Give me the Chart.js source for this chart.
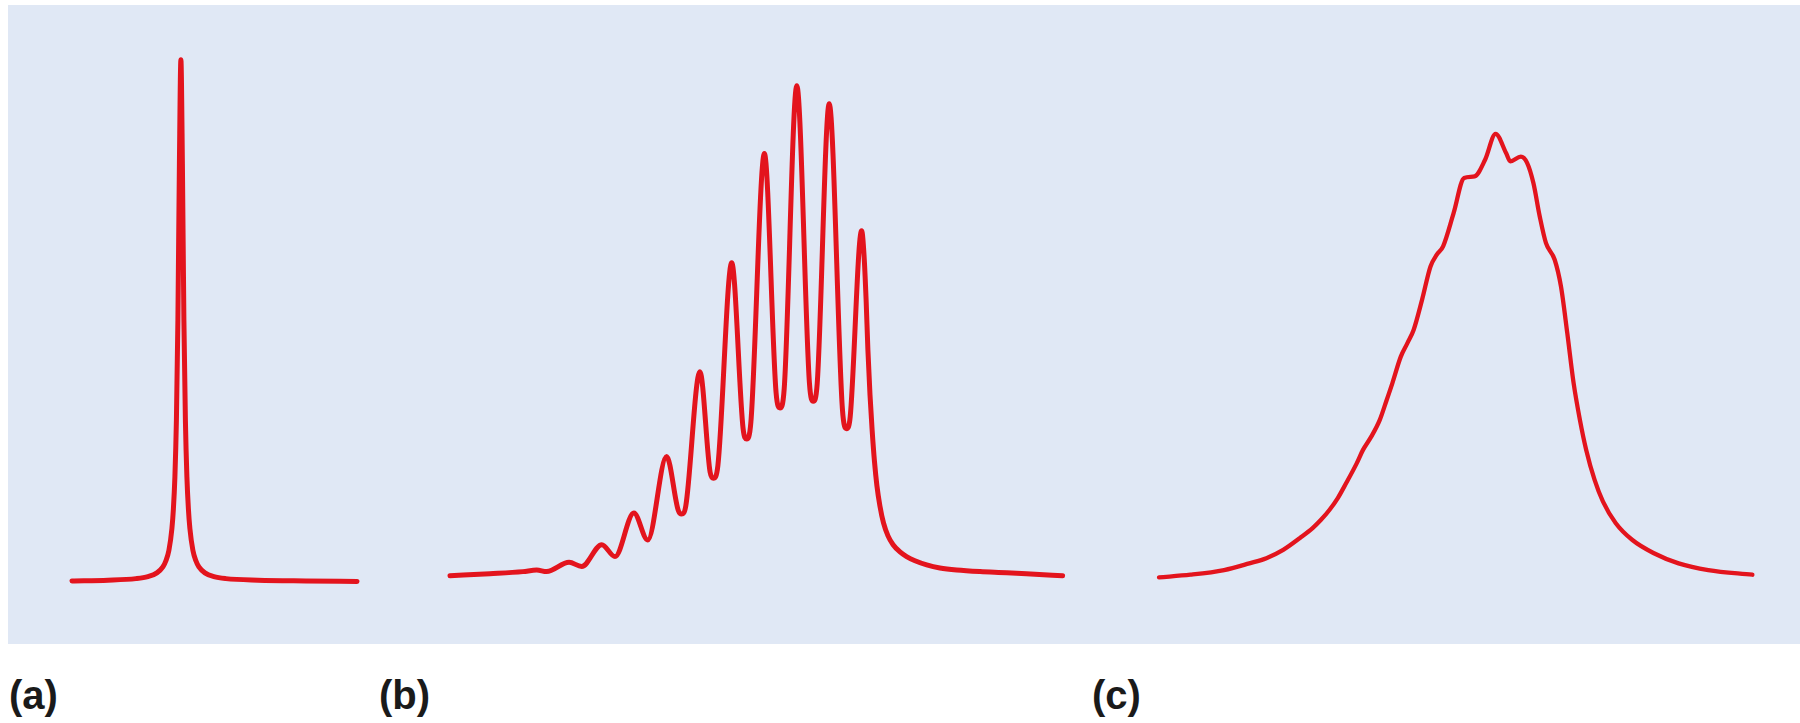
<!DOCTYPE html>
<html>
<head>
<meta charset="utf-8">
<script src="https://cdn.jsdelivr.net/npm/chart.js@4.4.1/dist/chart.umd.min.js"></script>
<style>
    body { margin: 0; background: #ffffff; width: 1800px; height: 723px; overflow: hidden; position: relative; }
    #panel { position: absolute; left: 8px; top: 5px; width: 1792px; height: 639px; background: #e0e8f5; }
    canvas { position: absolute; }
    .tag { position: absolute; top: 673px; line-height: 40px; font: bold 40px "Liberation Sans", Arial, sans-serif; color: #1a1a1a; }
</style>
</head>
<body>
<div id="panel"></div>
<canvas id="chart0" width="297" height="632" style="left:66px; top:8px;"></canvas>
<canvas id="chart1" width="624" height="632" style="left:444px; top:8px;"></canvas>
<canvas id="chart2" width="606" height="632" style="left:1153px; top:8px;"></canvas>
<div class="tag" id="tag0" style="left:9px;"></div>
<div class="tag" id="tag1" style="left:379px;"></div>
<div class="tag" id="tag2" style="left:1092px;"></div>

<script>
const panelTags = ["(a)", "(b)", "(c)"];

// (a) single narrow line
let aPos = [0, 12, 21.3, 25.3, 28.3, 30.3, 31.3, 32.3, 33.3, 33.8, 34.3, 34.8, 35.3, 35.8, 36.3, 36.8, 37.3, 37.8, 38.3, 38.8, 39.3, 40.3, 41.3, 42.3, 44.3, 47.3, 51.3, 62, 78, 95];
let aVal = [-0.6, -0.45, -0.15, 0.23, 0.95, 2.1, 3.3, 5.3, 9.5, 13.3, 19.5, 30.4, 49.7, 79.9, 100, 79.9, 49.7, 30.4, 19.5, 13.3, 9.5, 5.3, 3.3, 2.1, 0.95, 0.23, -0.15, -0.45, -0.6, -0.7];

// (b) resolved progression of lines
let bPos = [0, 13.3, 24.3, 28.9, 32.2, 39.7, 43.9, 50.6, 55, 61.3, 65.9, 72.2, 76.1, 77.2, 78.6, 83.3, 86.7, 87.8, 89.3, 93.9, 97.7, 98.9, 100.3, 104.8, 108.7, 110, 111.4, 115.6, 119.8, 121.1, 122.4, 126.4, 130.8, 132.2, 133.4, 137.2, 138.0, 138.7, 139.3, 140.0, 140.7, 141.5, 142.3, 143.3, 144.5, 146.0, 147.7, 150.0, 152.2, 155, 158.9, 163.3, 168.9, 176.7, 185.6, 195, 204.2];
let bVal = [0.4, 0.8, 1.2, 1.5, 1.2, 3.0, 2.2, 6.4, 4.1, 12.5, 7.3, 23.4, 13.0, 12.3, 13.9, 39.8, 20.4, 19.2, 21.7, 60.8, 28.8, 26.8, 30.1, 81.9, 35.7, 32.8, 36.5, 95.0, 37.7, 34.1, 37.5, 91.5, 32.6, 28.8, 31.1, 67.0, 62.4, 53.7, 44.0, 35.3, 28.6, 22.4, 17.8, 13.9, 10.6, 8.1, 6.4, 5.0, 4.1, 3.3, 2.5, 1.9, 1.5, 1.2, 1.0, 0.7, 0.4];

// (c) broadened envelope
let cPos = [0, 10.5, 21.7, 30.1, 35.8, 41.4, 47.0, 51.2, 54.0, 56.8, 59.6, 62.4, 65.9, 68.0, 70.8, 73.6, 75.7, 77.8, 80.6, 82.8, 84.9, 87.7, 90.5, 92.6, 94.7, 98.2, 101.7, 105.2, 108.7, 112.2, 115.7, 117.1, 120.6, 122.7, 124.8, 126.9, 129.0, 131.9, 134.0, 136.1, 138.2, 140.3, 142.4, 145.2, 148.0, 152.2, 157.8, 164.8, 173.2, 183.1, 197.8];
let cVal = [0.1, 0.6, 1.5, 2.8, 3.8, 5.4, 7.7, 9.6, 11.2, 13.1, 15.4, 18.3, 22.1, 24.7, 27.3, 30.5, 34.0, 37.6, 42.7, 45.3, 47.9, 53.7, 60.1, 62.4, 64.0, 70.4, 77.2, 77.5, 80.7, 85.7, 82.0, 80.4, 81.3, 80.1, 76.2, 69.8, 64.6, 61.4, 56.2, 47.2, 37.6, 30.5, 24.7, 18.9, 14.7, 10.6, 7.3, 4.8, 2.8, 1.5, 0.6];

const xRanges = [[-2, 97], [-2, 206], [-2, 200]];
const lineColor = "#e3141d";

function createSpectrum(index, positions, values, width) {
    let points = [];
    for (let i = 0; i < positions.length; i++) {
        points.push({ x: positions[i], y: values[i] });
    }

    const config = {
        type: "line",
        data: {
            datasets: [{
                data: points,
                borderColor: lineColor,
                borderWidth: width,
                borderCapStyle: "round",
                borderJoinStyle: "round",
                cubicInterpolationMode: "monotone",
                pointRadius: 0,
                fill: false
            }]
        },
        options: {
            responsive: false,
            animation: false,
            layout: { padding: 0 },
            plugins: {
                legend: { display: false },
                tooltip: { enabled: false }
            },
            scales: {
                x: { type: "linear", display: false, min: xRanges[index][0], max: xRanges[index][1] },
                y: { display: false, min: -12, max: 110 }
            }
        }
    };

    document.getElementById("tag" + index).textContent = panelTags[index];
    return new Chart("chart" + index, config);
}

createSpectrum(0, aPos, aVal, 5);
createSpectrum(1, bPos, bVal, 5);
createSpectrum(2, cPos, cVal, 4.3);
</script>
</body>
</html>
